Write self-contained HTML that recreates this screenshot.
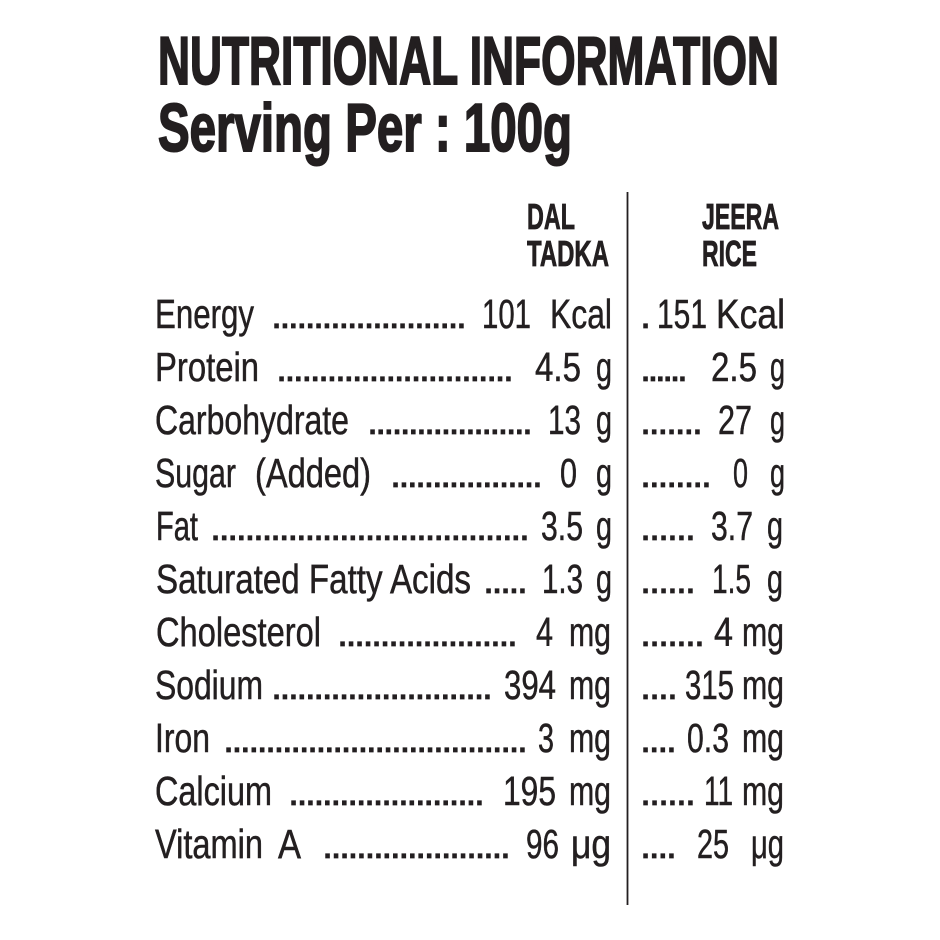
<!DOCTYPE html>
<html>
<head>
<meta charset="utf-8">
<style>
html,body{margin:0;padding:0;background:#fff;}
svg{display:block;}
text{font-family:"Liberation Sans", sans-serif; fill:#231f20;}
.t{font-weight:bold;font-size:68px;stroke:#231f20;stroke-width:2;}
.h{font-weight:bold;font-size:36px;stroke:#231f20;stroke-width:0.8;}
.r{font-size:40.5px;stroke:#231f20;stroke-width:0.5;}
.d{font-size:40px;font-weight:normal;stroke:#231f20;stroke-width:0.8;}
</style>
</head>
<body>
<svg width="940" height="940" viewBox="0 0 940 940" xmlns="http://www.w3.org/2000/svg">
<rect width="940" height="940" fill="#fff"/>
<!-- Title -->
<text class="t" x="158" y="84" textLength="621" lengthAdjust="spacingAndGlyphs">NUTRITIONAL INFORMATION</text>
<text class="t" x="158" y="151" textLength="414" lengthAdjust="spacingAndGlyphs">Serving Per : 100g</text>
<!-- Headers -->
<text class="h" x="527" y="229" textLength="48" lengthAdjust="spacingAndGlyphs">DAL</text>
<text class="h" x="527" y="266" textLength="82" lengthAdjust="spacingAndGlyphs">TADKA</text>
<text class="h" x="702" y="229" textLength="77" lengthAdjust="spacingAndGlyphs">JEERA</text>
<text class="h" x="702" y="266" textLength="55" lengthAdjust="spacingAndGlyphs">RICE</text>
<!-- Divider -->
<rect x="626.6" y="192" width="1.8" height="713" fill="#231f20"/>

<!-- Row 0: Energy y=328 -->
<text class="r" x="155" y="328" textLength="99" lengthAdjust="spacingAndGlyphs">Energy</text>
<text class="d" x="271" y="328" textLength="196" lengthAdjust="spacing">.......................</text>
<text class="r" x="482" y="328" textLength="49" lengthAdjust="spacingAndGlyphs">101</text>
<text class="r" x="550" y="328" textLength="62" lengthAdjust="spacingAndGlyphs">Kcal</text>
<text class="d" x="640" y="328">.</text>
<text class="r" x="657" y="328" textLength="50" lengthAdjust="spacingAndGlyphs">151</text>
<text class="r" x="716" y="328" textLength="69" lengthAdjust="spacingAndGlyphs">Kcal</text>

<!-- Row 1: Protein y=381 -->
<text class="r" x="155" y="381" textLength="104" lengthAdjust="spacingAndGlyphs">Protein</text>
<text class="d" x="276" y="381" textLength="238" lengthAdjust="spacing">............................</text>
<text class="r" x="535" y="381" textLength="46" lengthAdjust="spacingAndGlyphs">4.5</text>
<text class="r" x="596" y="381" textLength="16" lengthAdjust="spacingAndGlyphs">g</text>
<text class="d" x="640" y="381" textLength="48" lengthAdjust="spacing">......</text>
<text class="r" x="711" y="381" textLength="46" lengthAdjust="spacingAndGlyphs">2.5</text>
<text class="r" x="770" y="381" textLength="15" lengthAdjust="spacingAndGlyphs">g</text>

<!-- Row 2: Carbohydrate y=434 -->
<text class="r" x="155" y="434" textLength="194" lengthAdjust="spacingAndGlyphs">Carbohydrate</text>
<text class="d" x="367" y="434" textLength="166" lengthAdjust="spacing">....................</text>
<text class="r" x="548" y="434" textLength="33" lengthAdjust="spacingAndGlyphs">13</text>
<text class="r" x="596" y="434" textLength="16" lengthAdjust="spacingAndGlyphs">g</text>
<text class="d" x="640" y="434" textLength="63" lengthAdjust="spacing">.......</text>
<text class="r" x="718" y="434" textLength="34" lengthAdjust="spacingAndGlyphs">27</text>
<text class="r" x="770" y="434" textLength="15" lengthAdjust="spacingAndGlyphs">g</text>

<!-- Row 3: Sugar (Added) y=487 -->
<text class="r" x="155" y="487" textLength="81" lengthAdjust="spacingAndGlyphs">Sugar</text>
<text class="r" x="255" y="487" textLength="116" lengthAdjust="spacingAndGlyphs">(Added)</text>
<text class="d" x="390" y="487" textLength="153" lengthAdjust="spacing">..................</text>
<text class="r" x="560" y="487" textLength="17" lengthAdjust="spacingAndGlyphs">0</text>
<text class="r" x="596" y="487" textLength="16" lengthAdjust="spacingAndGlyphs">g</text>
<text class="d" x="640" y="487" textLength="72" lengthAdjust="spacing">........</text>
<text class="r" x="733" y="487" textLength="15" lengthAdjust="spacingAndGlyphs">0</text>
<text class="r" x="770" y="487" textLength="15" lengthAdjust="spacingAndGlyphs">g</text>

<!-- Row 4: Fat y=540 -->
<text class="r" x="156" y="540" textLength="42" lengthAdjust="spacingAndGlyphs">Fat</text>
<text class="d" x="210" y="540" textLength="320" lengthAdjust="spacing">.....................................</text>
<text class="r" x="541" y="540" textLength="42" lengthAdjust="spacingAndGlyphs">3.5</text>
<text class="r" x="596" y="540" textLength="16" lengthAdjust="spacingAndGlyphs">g</text>
<text class="d" x="640" y="540" textLength="56" lengthAdjust="spacing">......</text>
<text class="r" x="711" y="540" textLength="42" lengthAdjust="spacingAndGlyphs">3.7</text>
<text class="r" x="767" y="540" textLength="16" lengthAdjust="spacingAndGlyphs">g</text>

<!-- Row 5: Saturated Fatty Acids y=593 -->
<text class="r" x="156" y="593" textLength="315" lengthAdjust="spacingAndGlyphs">Saturated Fatty Acids</text>
<text class="d" x="483" y="593" textLength="45" lengthAdjust="spacing">.....</text>
<text class="r" x="542" y="593" textLength="41" lengthAdjust="spacingAndGlyphs">1.3</text>
<text class="r" x="596" y="593" textLength="16" lengthAdjust="spacingAndGlyphs">g</text>
<text class="d" x="640" y="593" textLength="56" lengthAdjust="spacing">......</text>
<text class="r" x="712" y="593" textLength="39" lengthAdjust="spacingAndGlyphs">1.5</text>
<text class="r" x="767" y="593" textLength="16" lengthAdjust="spacingAndGlyphs">g</text>

<!-- Row 6: Cholesterol y=646 -->
<text class="r" x="156" y="646" textLength="165" lengthAdjust="spacingAndGlyphs">Cholesterol</text>
<text class="d" x="337" y="646" textLength="181" lengthAdjust="spacing">.....................</text>
<text class="r" x="536" y="646" textLength="17" lengthAdjust="spacingAndGlyphs">4</text>
<text class="r" x="569" y="646" textLength="42" lengthAdjust="spacingAndGlyphs">mg</text>
<text class="d" x="640" y="646" textLength="65" lengthAdjust="spacing">.......</text>
<text class="r" x="714" y="646" textLength="19" lengthAdjust="spacingAndGlyphs">4</text>
<text class="r" x="742" y="646" textLength="42" lengthAdjust="spacingAndGlyphs">mg</text>

<!-- Row 7: Sodium y=699 -->
<text class="r" x="155" y="699" textLength="108" lengthAdjust="spacingAndGlyphs">Sodium</text>
<text class="d" x="271" y="699" textLength="222" lengthAdjust="spacing">..........................</text>
<text class="r" x="504" y="699" textLength="52" lengthAdjust="spacingAndGlyphs">394</text>
<text class="r" x="569" y="699" textLength="42" lengthAdjust="spacingAndGlyphs">mg</text>
<text class="d" x="640" y="699" textLength="38" lengthAdjust="spacing">....</text>
<text class="r" x="685" y="699" textLength="49" lengthAdjust="spacingAndGlyphs">315</text>
<text class="r" x="742" y="699" textLength="42" lengthAdjust="spacingAndGlyphs">mg</text>

<!-- Row 8: Iron y=752 -->
<text class="r" x="155" y="752" textLength="55" lengthAdjust="spacingAndGlyphs">Iron</text>
<text class="d" x="223" y="752" textLength="305" lengthAdjust="spacing">....................................</text>
<text class="r" x="538" y="752" textLength="16" lengthAdjust="spacingAndGlyphs">3</text>
<text class="r" x="569" y="752" textLength="42" lengthAdjust="spacingAndGlyphs">mg</text>
<text class="d" x="640" y="752" textLength="37" lengthAdjust="spacing">....</text>
<text class="r" x="687" y="752" textLength="42" lengthAdjust="spacingAndGlyphs">0.3</text>
<text class="r" x="742" y="752" textLength="42" lengthAdjust="spacingAndGlyphs">mg</text>

<!-- Row 9: Calcium y=805 -->
<text class="r" x="155" y="805" textLength="117" lengthAdjust="spacingAndGlyphs">Calcium</text>
<text class="d" x="288" y="805" textLength="197" lengthAdjust="spacing">.......................</text>
<text class="r" x="503" y="805" textLength="53" lengthAdjust="spacingAndGlyphs">195</text>
<text class="r" x="569" y="805" textLength="42" lengthAdjust="spacingAndGlyphs">mg</text>
<text class="d" x="640" y="805" textLength="56" lengthAdjust="spacing">......</text>
<text class="r" x="704" y="805" textLength="29" lengthAdjust="spacingAndGlyphs">11</text>
<text class="r" x="742" y="805" textLength="42" lengthAdjust="spacingAndGlyphs">mg</text>

<!-- Row 10: Vitamin A y=858 -->
<text class="r" x="155" y="858" textLength="108" lengthAdjust="spacingAndGlyphs">Vitamin</text>
<text class="r" x="278" y="858" textLength="23" lengthAdjust="spacingAndGlyphs">A</text>
<text class="d" x="322" y="858" textLength="189" lengthAdjust="spacing">......................</text>
<text class="r" x="526" y="858" textLength="33" lengthAdjust="spacingAndGlyphs">96</text>
<text class="r" x="571" y="858" textLength="40" lengthAdjust="spacingAndGlyphs">μg</text>
<text class="d" x="640" y="858" textLength="37" lengthAdjust="spacing">....</text>
<text class="r" x="697" y="858" textLength="32" lengthAdjust="spacingAndGlyphs">25</text>
<text class="r" x="751" y="858" textLength="33" lengthAdjust="spacingAndGlyphs">μg</text>
</svg>
</body>
</html>
